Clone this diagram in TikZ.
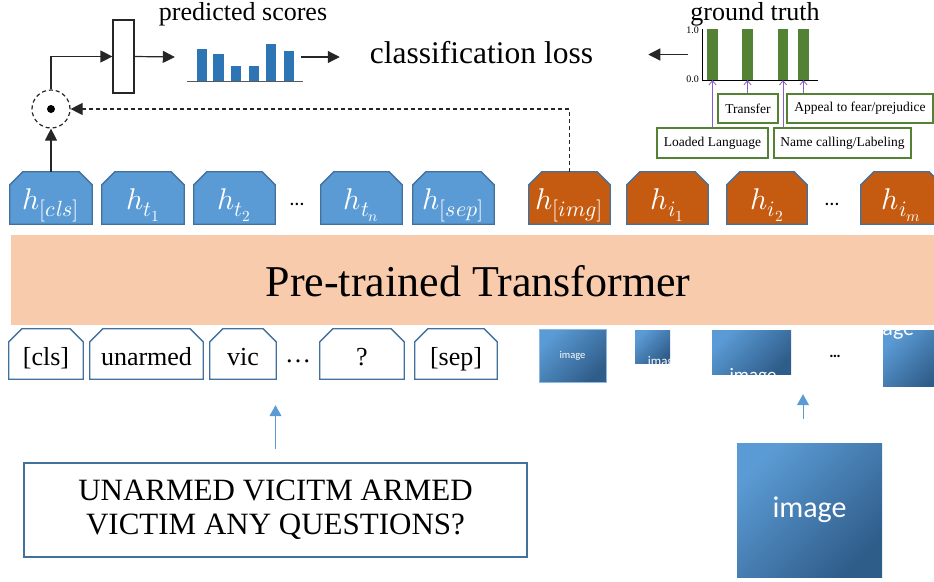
\documentclass[tikz,border=0pt]{standalone}
\usepackage{fontspec}
\usepackage{unicode-math}
\setmainfont{Liberation Serif}
\newfontfamily\carl{Carlito}
\usetikzlibrary{arrows.meta,backgrounds}
\definecolor{hblue}{HTML}{5B9BD5}
\definecolor{hborder}{HTML}{41719C}
\definecolor{horange}{HTML}{C55A11}
\definecolor{bandc}{HTML}{F8CBAD}
\definecolor{barblue}{HTML}{2E75B6}
\definecolor{gtgreen}{HTML}{548235}
\definecolor{purp}{HTML}{8A5CC8}
\definecolor{imgA}{HTML}{5B9BD5}
\definecolor{imgB}{HTML}{2F5D8A}
\definecolor{arrblue}{HTML}{5B9BD5}
\newcommand\hsub[1]{\mbox{\fontsize{22}{22}\selectfont$#1$}}
\tikzset{
  hnode/.style={minimum height=52pt, inner sep=0pt, text=white, text height=22pt, text depth=0pt, font=\fontsize{30}{32}\selectfont},
  toknode/.style={minimum height=50pt, inner sep=0pt, text height=23pt, text depth=1pt, font=\fontsize{26}{30}\selectfont},
  arr/.style={draw=black!85, line width=1.2pt, -{Triangle[length=12pt,width=12pt]}},
  dasharr/.style={arr, dash pattern=on 4pt off 3pt},
  barr/.style={draw=arrblue, line width=1pt, -{Triangle[length=11pt,width=12pt]}},
  parr/.style={draw=purp, line width=0.8pt, -{Straight Barb[length=4pt,width=7pt]}},
  gbox/.style={draw=gtgreen, line width=1.6pt, inner sep=0pt, font=\fontsize{13.5}{15}\selectfont},
  imgnode/.style={inner sep=0pt, top color=imgA, bottom color=imgB, shading angle=45, text=white},
  gbar/.style={fill=gtgreen, inner sep=0pt, minimum height=51pt},
}
\begin{document}
\begin{tikzpicture}[x=1pt,y=-1pt]
\useasboundingbox (0,0) rectangle (934,581);
% transformer band
\node[fill=bandc, minimum width=923pt, minimum height=90pt, inner sep=0pt] (band) at (472.5,280) {};
\node[anchor=base, font=\fontsize{44}{48}\selectfont] (bandtxt) at (478,296) {Pre-trained Transformer};

% hidden state nodes
\node[hnode, minimum width=82pt] (hcls) at (51,198) {$h_{\hsub{[cls]}}$};
\node[hnode, minimum width=82pt] (ht1) at (143,198) {$h_{\hsub{t_1}}$};
\node[hnode, minimum width=81pt] (ht2) at (234.5,198) {$h_{\hsub{t_2}}$};
\node[font=\carl\fontsize{20}{20}\selectfont] (hdots1) at (297,204) {…};
\node[hnode, minimum width=81pt] (htn) at (361.5,198) {$h_{\hsub{t_n}}$};
\node[hnode, minimum width=81pt] (hsep) at (453.5,198) {$h_{\hsub{[sep]}}$};
\node[hnode, minimum width=81pt] (himg) at (569.5,198) {$h_{\hsub{[img]}}$};
\node[hnode, minimum width=81pt] (hi1) at (667.5,198) {$h_{\hsub{i_1}}$};
\node[hnode, minimum width=80pt] (hi2) at (767,198) {$h_{\hsub{i_2}}$};
\node[font=\carl\fontsize{20}{20}\selectfont] (hdots2) at (832,204) {…};
\node[hnode, minimum width=81pt] (him) at (901.5,198) {$h_{\hsub{i_m}}$};

% token nodes
\node[toknode, minimum width=74pt] (tcls) at (46,354) {[cls]};
\node[toknode, minimum width=113pt] (tun) at (146.5,354) {unarmed};
\node[toknode, minimum width=66pt] (tvic) at (243,354) {vic};
\node[font=\fontsize{26}{30}\selectfont] (tdots) at (298,361) {…};
\node[toknode, minimum width=84pt] (tq) at (362,354) {?};
\node[toknode, minimum width=82pt] (tsep) at (456,354) {[sep]};

\begin{scope}[on background layer]
\foreach \n/\f in {hcls/hblue,ht1/hblue,ht2/hblue,htn/hblue,hsep/hblue,himg/horange,hi1/horange,hi2/horange,him/horange,tcls/white,tun/white,tvic/white,tq/white,tsep/white}
  \filldraw[fill=\f, draw=hborder, line width=1.3pt, line join=miter]
    (\n.south west) -- ([yshift=-13pt]\n.north west) -- ([xshift=13pt]\n.north west)
    -- ([xshift=-13pt]\n.north east) -- ([yshift=-13pt]\n.north east) -- (\n.south east) -- cycle;
\end{scope}

% image patches
\node[imgnode, draw=imgA!70!white, line width=0.8pt, minimum width=67pt, minimum height=53pt, font=\carl\fontsize{10.5}{12}\selectfont] (img1) at (572.5,355.5) {image};
\node[imgnode, minimum width=35pt, minimum height=33pt] (img2) at (652.5,346.5) {};
\begin{scope}
\clip (img2.south west) rectangle (img2.north east);
\node[text=white, font=\carl\fontsize{13}{14}\selectfont] at (664,362) {image};
\end{scope}
\node[imgnode, minimum width=79pt, minimum height=44pt] (img3) at (751.5,352) {};
\begin{scope}
\clip (img3.south west) rectangle (img3.north east);
\node[text=white, font=\carl\fontsize{19}{20}\selectfont] at (753,377) {image};
\end{scope}
\node[font=\carl\bfseries\fontsize{16}{16}\selectfont] (idots) at (835,356) {…};
\node[imgnode, minimum width=60pt, minimum height=56pt] (img4) at (913,358) {};
\begin{scope}
\clip (img4.south west) rectangle (img4.north east);
\node[text=white, font=\carl\fontsize{22}{24}\selectfont] at (887,330) {image};
\end{scope}

% inputs
\node[draw=hborder, line width=1.2pt, minimum width=503pt, minimum height=94pt, inner sep=0pt, align=center, font=\fontsize{31}{34}\selectfont] (textbox) at (275.5,510) {UNARMED VICITM ARMED\\VICTIM ANY QUESTIONS?};
\node[imgnode, minimum width=145pt, minimum height=134pt, font=\carl\fontsize{30}{32}\selectfont] (bigimg) at (809.5,510) {image};
\draw[barr, shorten <=13pt, shorten >=26pt] (textbox.north) -- (textbox.north |- tvic.south);
\draw[barr, shorten <=24pt, shorten >=20pt] ([xshift=-6.5pt]bigimg.north) -- ([xshift=-6.5pt]bigimg.north |- img3.south);

% top: fusion and classifier
\node[circle, draw=black!85, line width=1.2pt, dash pattern=on 4pt off 3pt, minimum size=38pt, inner sep=0pt] (odot) at (51,109) {};
\fill[black] (odot.center) circle (4pt);
\node[draw=black!85, line width=1.2pt, fill=white, minimum width=21pt, minimum height=73pt, inner sep=0pt] (fc) at (123.5,56.5) {};
\draw[arr] (hcls.north) -- (odot.south);
\draw[arr] (odot.north) |- (fc.west);
\draw[dasharr] (himg.north) |- (odot.east);

% predicted scores
\node[minimum width=126pt, minimum height=50pt, inner sep=0pt] (scores) at (238,57) {};
\foreach \a/\b/\t in {197/207/49,213/224/54,231/241/66,249/259/66,266/276/44,284/294/51}
  \fill[barblue] (\a,\t) rectangle (\b,81);
\draw[black!65, line width=1pt] (187,81) -- (303,81);
\node[anchor=base, font=\fontsize{26}{30}\selectfont] (predtxt) at (243,20) {predicted scores};
\draw[arr] (fc.east) -- (scores.west);

\node[anchor=base, inner sep=0pt, font=\fontsize{31.5}{34}\selectfont] (loss) at (481.5,63) {classification loss};
\draw[arr, shorten >=30pt] (scores.east) -- (scores.east -| loss.west);

% ground truth
\node[minimum width=134pt, minimum height=51pt, inner sep=0pt] (gtchart) at (755,54.5) {};
\node[anchor=base, font=\fontsize{26}{30}\selectfont] (gttxt) at (755,20) {ground truth};
\node[gbar, minimum width=11pt] (gb1) at (712.5,54.5) {};
\node[gbar, minimum width=11pt] (gb2) at (747.5,54.5) {};
\node[gbar, minimum width=10pt] (gb3) at (783,54.5) {};
\node[gbar, minimum width=11pt] (gb4) at (803.5,54.5) {};
\draw[black, line width=1pt] (702,29) -- (702,80) -- (818,80);
\node[anchor=east, inner sep=1pt, font=\fontsize{10}{11}\selectfont] (y1) at (700,30) {1.0};
\node[anchor=east, inner sep=1pt, font=\fontsize{10}{11}\selectfont] (y0) at (700,79) {0.0};
\draw[arr, shorten >=55pt] (gtchart.west) -- (gtchart.west -| loss.east);

\node[gbox, minimum width=111pt, minimum height=30pt] (loaded) at (712.5,143) {Loaded Language};
\node[gbox, minimum width=60pt, minimum height=29pt] (transfer) at (748,108.5) {Transfer};
\node[gbox, minimum width=137pt, minimum height=30pt] (namecall) at (842.5,143) {Name calling/Labeling};
\node[gbox, minimum width=146pt, minimum height=29pt] (appeal) at (860,108.5) {Appeal to fear/prejudice};
\draw[parr] (loaded.north -| gb1.south) -- (gb1.south);
\draw[parr] (transfer.north -| gb2.south) -- (gb2.south);
\draw[parr] (namecall.north -| gb3.south) -- (gb3.south);
\draw[parr] (appeal.north -| gb4.south) -- (gb4.south);
\end{tikzpicture}
\end{document}
